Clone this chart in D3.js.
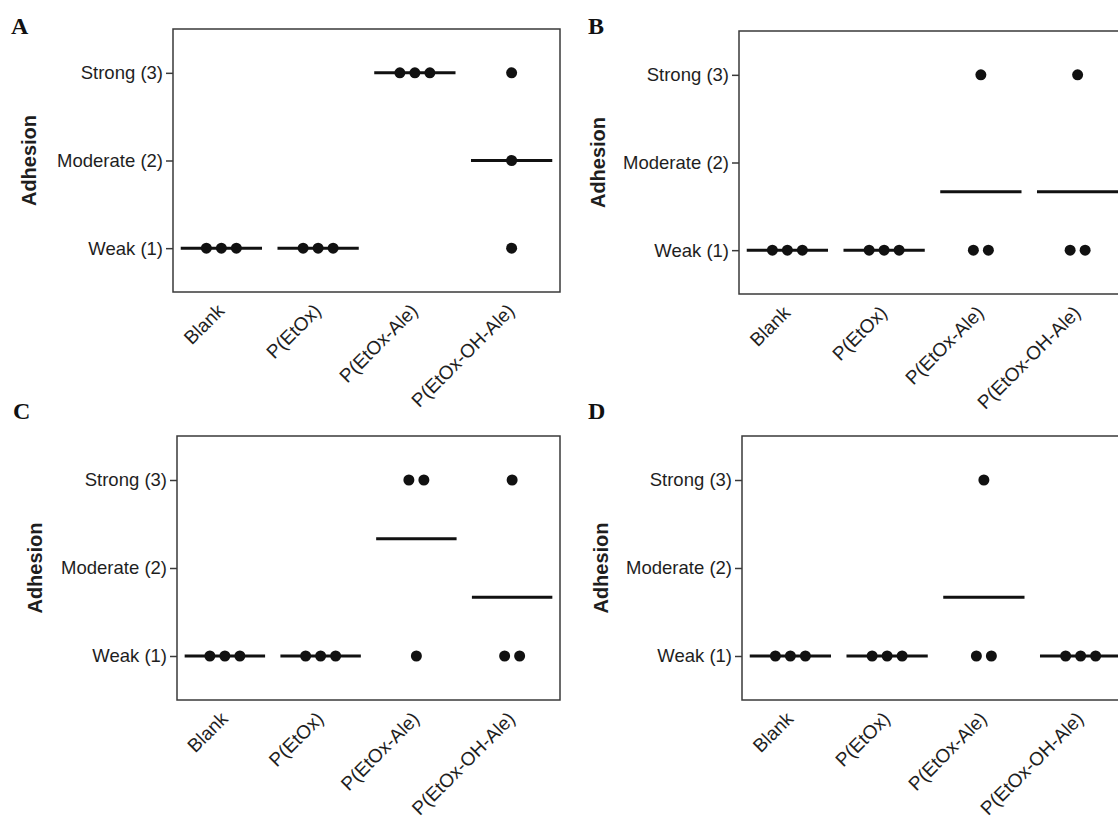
<!DOCTYPE html>
<html>
<head>
<meta charset="utf-8">
<script src="https://cdn.jsdelivr.net/npm/d3@7"></script>
<style>
  body { margin: 0; background: #fff; }
  svg { display: block; }
</style>
</head>
<body>
<svg class="chart" width="1118" height="816"></svg>
<script>
// adhesion scores per sample (three replicates per group)
var categories = ["Blank", "P(EtOx)", "P(EtOx-Ale)", "P(EtOx-OH-Ale)"];
var levelValues = [1, 2, 3];
var levelLabels = ["Weak (1)", "Moderate (2)", "Strong (3)"];
var panelNames = ["A", "B", "C", "D"];

var scoresA = [[1, 1, 1], [1, 1, 1], [3, 3, 3], [1, 2, 3]];
var scoresB = [[1, 1, 1], [1, 1, 1], [1, 1, 3], [1, 1, 3]];
var scoresC = [[1, 1, 1], [1, 1, 1], [1, 3, 3], [1, 1, 3]];
var scoresD = [[1, 1, 1], [1, 1, 1], [1, 1, 3], [1, 1, 1]];

var svg = d3.select(".chart");

svg.append("rect").attr("width", 1118).attr("height", 816).attr("fill", "#fff");

// panel frames: plot box + where the letter and y title go
var panels = [
    {name: panelNames[0], scores: scoresA, left: 173, top: 29, w: 387, h: 263, letterX: 11, letterY: 34, titleX: 36},
    {name: panelNames[1], scores: scoresB, left: 739, top: 31, w: 387, h: 263, letterX: 588, letterY: 34, titleX: 605},
    {name: panelNames[2], scores: scoresC, left: 177, top: 436, w: 383, h: 264, letterX: 13, letterY: 419, titleX: 42},
    {name: panelNames[3], scores: scoresD, left: 742, top: 436, w: 387, h: 264, letterX: 588, letterY: 419, titleX: 608}
];

panels.forEach(drawPanel);

function drawPanel(p) {
    var g = svg.append("g")
        .attr("transform", "translate(" + p.left + "," + p.top + ")");

    var xScale = d3.scaleBand()
        .domain(categories)
        .range([0, p.w]);

    var yScale = d3.scaleLinear()
        .domain([0.5, 3.5])
        .range([p.h, 0]);

    var bw = xScale.bandwidth();
    var font = "'Liberation Sans', Arial, sans-serif";

    // y axis with the level names
    var yAxis = d3.axisLeft(yScale)
        .tickValues(levelValues)
        .tickFormat(function(v) { return levelLabels[levelValues.indexOf(v)]; })
        .tickSize(7)
        .tickPadding(3);

    var ya = g.append("g").call(yAxis);
    ya.select(".domain").remove();
    ya.selectAll("line").attr("stroke", "#3a3a3a").attr("stroke-width", 1.5);
    ya.selectAll("text")
        .style("font-family", font)
        .style("font-size", "18.5px")
        .attr("fill", "#1e1e1e");

    // box
    g.append("rect")
        .attr("x", 0).attr("y", 0)
        .attr("width", p.w).attr("height", p.h)
        .attr("fill", "none")
        .attr("stroke", "#3a3a3a")
        .attr("stroke-width", 1.5);

    // mean lines
    g.selectAll(".mean").data(p.scores)
        .enter().append("line")
        .attr("class", "mean")
        .attr("x1", function(d, i) { return xScale(categories[i]) + bw / 2 - bw * 0.42; })
        .attr("x2", function(d, i) { return xScale(categories[i]) + bw / 2 + bw * 0.42; })
        .attr("y1", function(d) { return yScale(d3.mean(d)); })
        .attr("y2", function(d) { return yScale(d3.mean(d)); })
        .attr("stroke", "#111")
        .attr("stroke-width", 3);

    // dots, tied values sit side by side
    var dots = [];
    p.scores.forEach(function(vals, i) {
        d3.groups(vals, function(v) { return v; }).forEach(function(grp) {
            var n = grp[1].length;
            grp[1].forEach(function(v, j) {
                dots.push({cat: categories[i], value: v, off: (j - (n - 1) / 2) * 15});
            });
        });
    });

    g.selectAll(".dot").data(dots)
        .enter().append("circle")
        .attr("class", "dot")
        .attr("r", 5.5)
        .attr("cx", function(d) { return xScale(d.cat) + bw / 2 + d.off; })
        .attr("cy", function(d) { return yScale(d.value); })
        .attr("fill", "#111");

    // rotated category labels
    g.selectAll(".xlab").data(categories)
        .enter().append("text")
        .attr("class", "xlab")
        .attr("transform", function(d) {
            return "translate(" + (xScale(d) + bw / 2 + 4) + "," + (p.h + 20) + ") rotate(-45)";
        })
        .attr("text-anchor", "end")
        .style("font-family", font)
        .style("font-size", "19px")
        .attr("fill", "#1e1e1e")
        .text(function(d) { return d; });

    // y title
    svg.append("text")
        .attr("transform", "translate(" + p.titleX + "," + (p.top + p.h / 2) + ") rotate(-90)")
        .attr("text-anchor", "middle")
        .style("font-family", font)
        .style("font-size", "20px")
        .style("font-weight", "bold")
        .attr("fill", "#1e1e1e")
        .text("Adhesion");

    // panel letter
    svg.append("text")
        .attr("x", p.letterX)
        .attr("y", p.letterY)
        .style("font-family", "'Liberation Serif', 'Times New Roman', serif")
        .style("font-size", "24px")
        .style("font-weight", "bold")
        .attr("fill", "#111")
        .text(p.name);
}
</script>
</body>
</html>
